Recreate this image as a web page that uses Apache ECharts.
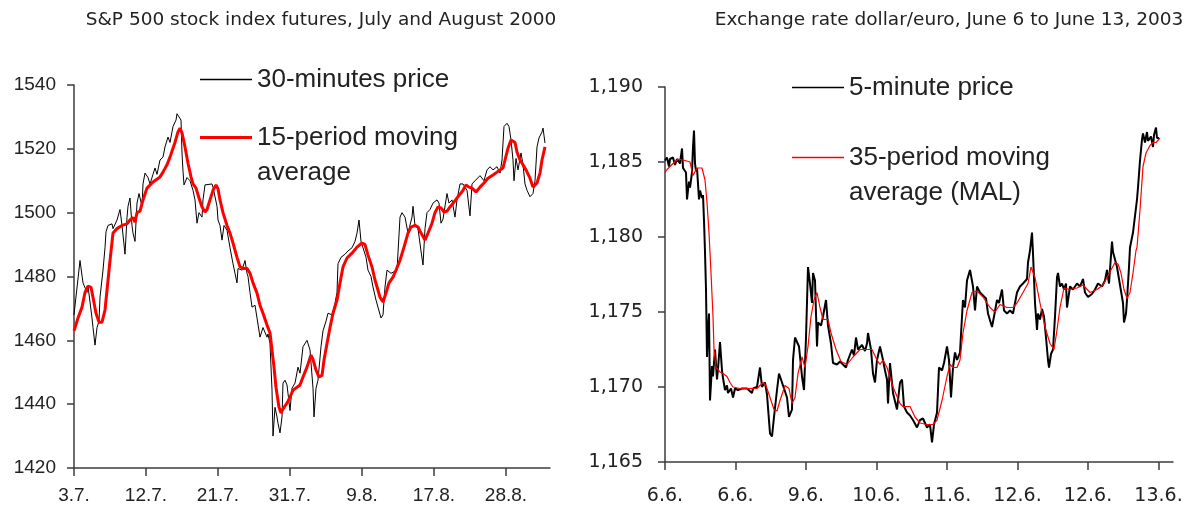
<!DOCTYPE html>
<html>
<head>
<meta charset="utf-8">
<script src="https://cdn.jsdelivr.net/npm/echarts@6/dist/echarts.min.js"></script>
<style>
  html, body { margin: 0; background: #fff; }
  #chart { width: 1200px; height: 509px; }
</style>
</head>
<body>
<div id="chart"></div>
<script>
// left panel: S&P 500 futures, x = 30-minute bar index
const spxTickBars = [0, 72, 144, 216, 288, 360, 432]
const spxTickLabels = ['3.7.', '12.7.', '21.7.', '31.7.', '9.8.', '17.8.', '28.8.']
const spxPrice = [
  [0, 1468], [6, 1485], [9, 1478], [11, 1478], [13, 1475], [14, 1477], [18, 1467], [19, 1464], [21, 1458.5], [23, 1464],
  [25, 1466], [26, 1473.5], [28, 1474], [29, 1482], [31, 1489], [32, 1494], [34, 1496], [38, 1496.5], [39, 1495], [43, 1497.7],
  [46, 1501], [48, 1496], [51, 1487], [53, 1498.5], [54, 1502], [56, 1504.6], [58, 1496], [59, 1493.6], [61, 1491], [63, 1503],
  [65, 1506], [68, 1502], [69, 1509], [71, 1512.4], [74, 1511], [76, 1509], [79, 1512], [81, 1514], [83, 1512], [86, 1516.5],
  [89, 1517.4], [91, 1520.6], [93, 1520], [94, 1523.7], [96, 1522], [98, 1525.3], [99, 1527], [102, 1529], [103, 1531], [105, 1531.5],
  [107, 1529], [108, 1518.7], [109, 1513], [110, 1508.7], [113, 1511], [114, 1511.6], [116, 1510], [119, 1507], [121, 1504], [123, 1496.7],
  [125, 1500], [128, 1498.6], [129, 1504], [131, 1508.7], [133, 1509], [138, 1509], [139, 1508], [143, 1502], [144, 1497.7], [146, 1496],
  [148, 1491.4], [150, 1496], [153, 1494.5], [156, 1489], [159, 1484], [161, 1481], [163, 1478], [164, 1482.5], [168, 1482], [171, 1485],
  [173, 1481], [174, 1480], [176, 1475], [178, 1470.4], [181, 1471], [183, 1467], [186, 1461], [189, 1464], [193, 1461], [194, 1462],
  [196, 1459], [198, 1444.4], [199, 1430], [201, 1439], [203, 1436], [204, 1434], [206, 1431], [208, 1436], [209, 1446.6], [211, 1447.5],
  [213, 1446], [216, 1438], [218, 1445], [221, 1446.6], [224, 1451.6], [226, 1449.7], [229, 1458], [233, 1460], [236, 1457], [239, 1445],
  [240, 1436], [242, 1445], [244, 1447.5], [247, 1458], [249, 1463], [252, 1466], [254, 1468.5], [258, 1468], [261, 1471.6], [263, 1475],
  [264, 1484], [267, 1486], [271, 1487], [274, 1488], [278, 1489], [281, 1491], [283, 1493.6], [285, 1497.7], [287, 1491], [289, 1489],
  [292, 1486], [294, 1482], [297, 1480], [299, 1476.7], [302, 1472.6], [304, 1472], [307, 1467], [309, 1468], [311, 1476.7], [313, 1482],
  [317, 1481], [319, 1481], [323, 1482], [326, 1498.6], [328, 1500], [331, 1498.6], [334, 1493.6], [338, 1498.6], [339, 1502], [341, 1496],
  [344, 1495], [347, 1488], [349, 1483.6], [351, 1495], [353, 1500], [356, 1501], [359, 1503], [363, 1504], [365, 1503], [367, 1496.7],
  [369, 1498], [373, 1506], [375, 1503], [378, 1504], [381, 1498.6], [383, 1504], [386, 1509], [389, 1509], [393, 1507], [396, 1499],
  [398, 1509], [401, 1510], [406, 1511.6], [410, 1510], [413, 1513.4], [416, 1514.4], [419, 1513.4], [423, 1514.4], [426, 1512.4], [428, 1516.5],
  [430, 1527], [433, 1528], [435, 1527], [437, 1522.8], [439, 1516.5], [440, 1510], [442, 1517], [444, 1513.4], [447, 1518.7], [449, 1515],
  [451, 1509], [453, 1507], [456, 1505], [459, 1506], [461, 1510], [463, 1520.6], [465, 1523.4], [468, 1525.3], [469, 1526.5], [471, 1521.8]
]
const spxAverage = [
  [0, 1463], [4, 1467], [8, 1470.4], [11, 1475], [14, 1477], [17, 1476.6], [19, 1473.5], [22, 1468.5], [25, 1465.7], [28, 1465.7],
  [31, 1469.5], [33, 1475.7], [36, 1485], [39, 1493.6], [43, 1495], [48, 1496], [53, 1496.5], [56, 1497.7], [59, 1498.5], [61, 1497],
  [63, 1500], [66, 1500.5], [69, 1504], [73, 1507.7], [79, 1509.6], [86, 1511.2], [89, 1512.7], [93, 1515], [96, 1517.4], [99, 1520.2],
  [101, 1522], [104, 1525.3], [106, 1526.5], [108, 1525], [111, 1520.6], [114, 1515.5], [117, 1511.2], [119, 1509], [122, 1507.7], [125, 1504.6],
  [128, 1501.8], [131, 1500.2], [133, 1501], [136, 1504], [139, 1507], [142, 1508.7], [144, 1507.5], [146, 1504], [149, 1500], [153, 1496],
  [156, 1493.6], [159, 1490.5], [163, 1486], [166, 1483], [170, 1482.5], [173, 1482.6], [176, 1481], [179, 1478], [183, 1474.8], [186, 1471],
  [189, 1468.5], [193, 1464.8], [196, 1462.3], [198, 1457], [200, 1451.6], [202, 1445.3], [205, 1439], [207, 1437.2], [209, 1438.5], [213, 1440.3],
  [216, 1442.2], [219, 1444.4], [223, 1445.3], [226, 1446], [229, 1448.5], [233, 1451.6], [237, 1455.4], [239, 1454], [242, 1450.7], [245, 1448.5],
  [248, 1449], [250, 1453.8], [253, 1459], [256, 1464], [259, 1468.5], [263, 1472.6], [266, 1478], [269, 1483], [273, 1485.8], [278, 1487.3],
  [283, 1489.2], [288, 1490.5], [291, 1490], [294, 1486.7], [298, 1483], [301, 1478.9], [304, 1475.7], [306, 1473.5], [309, 1472], [312, 1474.8],
  [315, 1478], [319, 1479.8], [322, 1482], [326, 1485.1], [330, 1489.2], [334, 1493.6], [337, 1495.5], [341, 1496], [344, 1495.5], [347, 1493.6],
  [351, 1491.4], [354, 1493.6], [358, 1496.7], [361, 1500], [364, 1501.8], [367, 1501.5], [370, 1500.2], [373, 1500.5], [376, 1501.8], [380, 1503.3],
  [384, 1505], [389, 1507], [392, 1508.7], [395, 1508], [398, 1507.7], [402, 1506.5], [406, 1508], [410, 1509.3], [414, 1510.8], [419, 1511.8],
  [423, 1512.7], [426, 1513.4], [429, 1514], [431, 1516.5], [434, 1520.2], [437, 1522.8], [439, 1523.4], [441, 1522], [443, 1519], [446, 1516.5],
  [449, 1515], [452, 1513.4], [456, 1510.8], [459, 1508], [461, 1507.5], [463, 1509.3], [466, 1512.4], [468, 1516.5], [471, 1520.6]
]

// right panel: dollar/euro, x = 5-minute bar index
const fxTickBars = [0, 70.5, 141, 211.5, 282, 352.5, 423, 493.5]
const fxTickLabels = ['6.6.', '6.6.', '9.6.', '10.6.', '11.6.', '12.6.', '12.6.', '13.6.']
const fxPrice = [
  [0, 1.1851], [2, 1.1853], [4, 1.1847], [5, 1.1852], [8, 1.1853], [10, 1.1848], [12, 1.1852], [15, 1.1849], [17, 1.1859], [18, 1.1846],
  [21, 1.1843], [22, 1.1825], [24, 1.1837], [25, 1.1833], [27, 1.1843], [28, 1.186], [29, 1.1871], [30, 1.1849], [31, 1.1844], [32, 1.1846],
  [34, 1.1825], [35, 1.1831], [37, 1.1826], [38, 1.1828], [39, 1.1811], [40, 1.179], [41, 1.1765], [42, 1.172], [43, 1.1738], [44, 1.1749],
  [45, 1.1691], [47, 1.1714], [48, 1.1707], [50, 1.1725], [52, 1.1705], [53, 1.1712], [55, 1.173], [57, 1.1711], [58, 1.1706], [60, 1.1698],
  [62, 1.1701], [63, 1.1696], [66, 1.1699], [68, 1.1693], [70, 1.1699], [73, 1.1698], [77, 1.1699], [82, 1.1699], [87, 1.1696], [88, 1.1699],
  [92, 1.17], [95, 1.1713], [97, 1.17], [100, 1.1703], [102, 1.1695], [105, 1.1669], [107, 1.1667], [109, 1.168], [112, 1.1698], [114, 1.1709],
  [115, 1.1707], [118, 1.1701], [122, 1.1693], [124, 1.168], [127, 1.1685], [128, 1.1718], [130, 1.1733], [132, 1.173], [134, 1.1727], [137, 1.1707],
  [139, 1.1698], [141, 1.1733], [143, 1.178], [145, 1.1769], [147, 1.1756], [148, 1.1776], [150, 1.1771], [152, 1.1727], [153, 1.1743], [156, 1.1741],
  [158, 1.1747], [161, 1.1758], [163, 1.1741], [166, 1.1729], [168, 1.1716], [172, 1.1715], [175, 1.1717], [178, 1.1715], [181, 1.1713], [183, 1.1718],
  [187, 1.1725], [189, 1.1721], [191, 1.1733], [193, 1.1725], [197, 1.1728], [200, 1.1724], [202, 1.1729], [203, 1.1736], [206, 1.1725], [208, 1.1709],
  [210, 1.1703], [212, 1.1718], [215, 1.1727], [218, 1.1718], [220, 1.1711], [222, 1.1705], [223, 1.1689], [225, 1.1716], [228, 1.1696], [232, 1.1685],
  [235, 1.1703], [237, 1.1705], [239, 1.1687], [242, 1.1683], [245, 1.1681], [248, 1.1678], [252, 1.1673], [255, 1.1678], [258, 1.1679], [262, 1.1673],
  [265, 1.1675], [267, 1.1663], [269, 1.1675], [272, 1.1683], [274, 1.1713], [277, 1.1711], [279, 1.1716], [282, 1.1727], [284, 1.1718], [286, 1.1693],
  [288, 1.1713], [290, 1.1723], [292, 1.1718], [295, 1.1723], [297, 1.1747], [298, 1.1758], [300, 1.1753], [302, 1.1771], [305, 1.1778], [308, 1.1767],
  [310, 1.1751], [312, 1.1767], [315, 1.1763], [318, 1.1761], [321, 1.1759], [323, 1.1749], [327, 1.174], [329, 1.1747], [332, 1.1758], [334, 1.1756],
  [337, 1.1765], [339, 1.1751], [342, 1.1749], [345, 1.1751], [348, 1.1749], [352, 1.1763], [355, 1.1767], [358, 1.1769], [362, 1.1772], [363, 1.1783],
  [365, 1.1791], [367, 1.1803], [368, 1.1789], [370, 1.1756], [372, 1.1738], [373, 1.1749], [375, 1.1745], [377, 1.1752], [379, 1.1747], [381, 1.1733],
  [383, 1.1718], [384, 1.1713], [386, 1.1722], [388, 1.1725], [390, 1.1747], [392, 1.1773], [393, 1.1776], [395, 1.1767], [397, 1.1769], [399, 1.1765],
  [401, 1.1769], [402, 1.1753], [405, 1.1767], [408, 1.1765], [412, 1.1769], [415, 1.1767], [418, 1.1772], [420, 1.1763], [423, 1.176], [427, 1.1762],
  [430, 1.1765], [433, 1.1769], [437, 1.1767], [440, 1.1771], [442, 1.1778], [444, 1.1769], [447, 1.1797], [448, 1.179], [452, 1.178], [455, 1.1768],
  [458, 1.1756], [459, 1.1743], [461, 1.1749], [462, 1.1758], [464, 1.178], [465, 1.1793], [468, 1.1803], [472, 1.1825], [473, 1.1833], [475, 1.1851],
  [477, 1.1865], [478, 1.1869], [480, 1.1863], [482, 1.187], [483, 1.1864], [486, 1.1867], [488, 1.186], [489, 1.1868], [491, 1.1873], [492, 1.1866],
  [494, 1.1866]
]
const fxAverage = [
  [0, 1.1843], [2, 1.1845], [8, 1.1849], [13, 1.1852], [20, 1.1851], [25, 1.185], [28, 1.1841], [32, 1.1846], [37, 1.1846], [40, 1.1838],
  [42, 1.1823], [44, 1.1803], [46, 1.1776], [48, 1.1747], [49, 1.1725], [51, 1.1713], [55, 1.171], [58, 1.1709], [62, 1.1707], [65, 1.1703],
  [68, 1.17], [75, 1.1699], [85, 1.1699], [92, 1.1699], [98, 1.1703], [101, 1.1701], [105, 1.1693], [109, 1.1685], [112, 1.1684], [115, 1.1691],
  [120, 1.1701], [124, 1.1699], [127, 1.1689], [130, 1.1693], [133, 1.1709], [137, 1.172], [140, 1.1713], [143, 1.1727], [146, 1.1747], [149, 1.1758],
  [152, 1.1763], [155, 1.1753], [158, 1.1745], [163, 1.1745], [166, 1.1736], [171, 1.1725], [176, 1.1717], [182, 1.1715], [188, 1.172], [195, 1.1725],
  [202, 1.1725], [207, 1.1725], [212, 1.1718], [215, 1.1715], [218, 1.1718], [222, 1.1713], [228, 1.17], [235, 1.1689], [238, 1.1687], [245, 1.1687],
  [250, 1.168], [255, 1.1676], [262, 1.1675], [268, 1.1675], [272, 1.1678], [277, 1.1691], [282, 1.1707], [285, 1.1715], [288, 1.1713], [292, 1.1713],
  [295, 1.1718], [298, 1.1736], [302, 1.1751], [307, 1.1763], [312, 1.1764], [318, 1.176], [325, 1.1753], [330, 1.175], [335, 1.1755], [342, 1.1753],
  [348, 1.1753], [352, 1.1756], [358, 1.1763], [363, 1.1769], [366, 1.178], [370, 1.1773], [375, 1.1756], [380, 1.174], [385, 1.1729], [389, 1.1725],
  [392, 1.1738], [395, 1.1753], [399, 1.1766], [405, 1.1765], [412, 1.1766], [418, 1.1768], [425, 1.1763], [432, 1.1765], [438, 1.1768], [442, 1.1773],
  [446, 1.1778], [450, 1.1783], [453, 1.1782], [456, 1.1776], [459, 1.1765], [462, 1.1759], [465, 1.1763], [468, 1.1776], [471, 1.1791], [472, 1.1793],
  [475, 1.1818], [478, 1.1847], [481, 1.1856], [485, 1.1861], [488, 1.1863], [491, 1.1863], [495, 1.1866]
]

const axisColor = '#3c3c3c'
const textColor = '#222'
const arial = '"Liberation Sans", Arial, sans-serif'
const gothic = '"DejaVu Sans", sans-serif'

function xAxisFor(gridIndex, max, ticks, labels, font, margin) {
  return {
    type: 'value',
    gridIndex,
    min: 0,
    max,
    splitLine: { show: false },
    axisLine: { lineStyle: { color: axisColor, width: 1.5 } },
    axisTick: { customValues: ticks, length: 8, lineStyle: { color: axisColor, width: 1.5 } },
    axisLabel: {
      customValues: ticks,
      margin,
      color: textColor,
      fontFamily: font,
      fontSize: 19,
      formatter: (v) => labels[ticks.indexOf(v)] || ''
    }
  }
}

function yAxisFor(gridIndex, min, max, interval, font, margin, fmt) {
  return {
    type: 'value',
    gridIndex,
    min,
    max,
    interval,
    splitLine: { show: false },
    axisLine: { show: true, lineStyle: { color: axisColor, width: 1.5 } },
    axisTick: { show: true, length: 7, lineStyle: { color: axisColor, width: 1.5 } },
    axisLabel: { margin, color: textColor, fontFamily: font, fontSize: 19, formatter: fmt }
  }
}

// one legend per entry so each line/label pair can sit where the original has it;
// two-line labels get a blank first line so the key lines up with the top row
function legendFor(name, left, top, color, thickness, twoLine) {
  return {
    data: [name],
    left,
    top,
    padding: 0,
    icon: 'rect',
    itemWidth: 52,
    itemHeight: thickness,
    itemStyle: { color },
    selectedMode: false,
    formatter: (n) => (twoLine ? '\n' + n : n),
    textStyle: {
      fontFamily: arial,
      fontSize: 26,
      color: textColor,
      lineHeight: 35
    }
  }
}

const option = {
  animation: false,
  backgroundColor: '#fff',
  title: [
    {
      text: 'S&P 500 stock index futures, July and August 2000',
      left: 316,
      top: 6,
      textAlign: 'center',
      textStyle: { fontFamily: gothic, fontSize: 18.5, fontWeight: 'normal', color: textColor }
    },
    {
      text: 'Exchange rate dollar/euro, June 6 to June 13, 2003',
      left: 944,
      top: 6,
      textAlign: 'center',
      textStyle: { fontFamily: gothic, fontSize: 18.5, fontWeight: 'normal', color: textColor }
    }
  ],
  legend: [
    legendFor('30-minutes price', 200, 62, '#000', 1.5, false),
    legendFor('15-period moving\naverage', 200, 85, '#ff0000', 3, true),
    legendFor('5-minute price', 792, 70, '#000', 1.5, false),
    legendFor('35-period moving\naverage (MAL)', 792, 105, '#ff0000', 1.5, true)
  ],
  grid: [
    { left: 74, top: 85, width: 476, height: 383 },
    { left: 665, top: 87, width: 508, height: 375 }
  ],
  xAxis: [
    xAxisFor(0, 476, spxTickBars, spxTickLabels, arial, 18),
    xAxisFor(1, 508, fxTickBars, fxTickLabels, gothic, 25)
  ],
  yAxis: [
    yAxisFor(0, 1420, 1540, 20, arial, 18, (v) => String(v)),
    yAxisFor(1, 1.165, 1.19, 0.005, gothic, 22, (v) => v.toFixed(3).replace('.', ','))
  ],
  series: [
    {
      name: '30-minutes price',
      type: 'line',
      xAxisIndex: 0,
      yAxisIndex: 0,
      data: spxPrice,
      symbol: 'none',
      lineStyle: { color: '#000', width: 1 },
      itemStyle: { color: '#000' }
    },
    {
      name: '15-period moving\naverage',
      type: 'line',
      xAxisIndex: 0,
      yAxisIndex: 0,
      data: spxAverage,
      symbol: 'none',
      lineStyle: { color: '#ff0000', width: 3 },
      itemStyle: { color: '#ff0000' }
    },
    {
      name: '5-minute price',
      type: 'line',
      xAxisIndex: 1,
      yAxisIndex: 1,
      data: fxPrice,
      symbol: 'none',
      lineStyle: { color: '#000', width: 2 },
      itemStyle: { color: '#000' }
    },
    {
      name: '35-period moving\naverage (MAL)',
      type: 'line',
      xAxisIndex: 1,
      yAxisIndex: 1,
      data: fxAverage,
      symbol: 'none',
      lineStyle: { color: '#ff0000', width: 1.2 },
      itemStyle: { color: '#ff0000' }
    }
  ]
}

const myChart = echarts.init(document.getElementById('chart'))
myChart.setOption(option)
window.addEventListener('resize', () => {
  myChart.resize()
})
</script>
</body>
</html>
